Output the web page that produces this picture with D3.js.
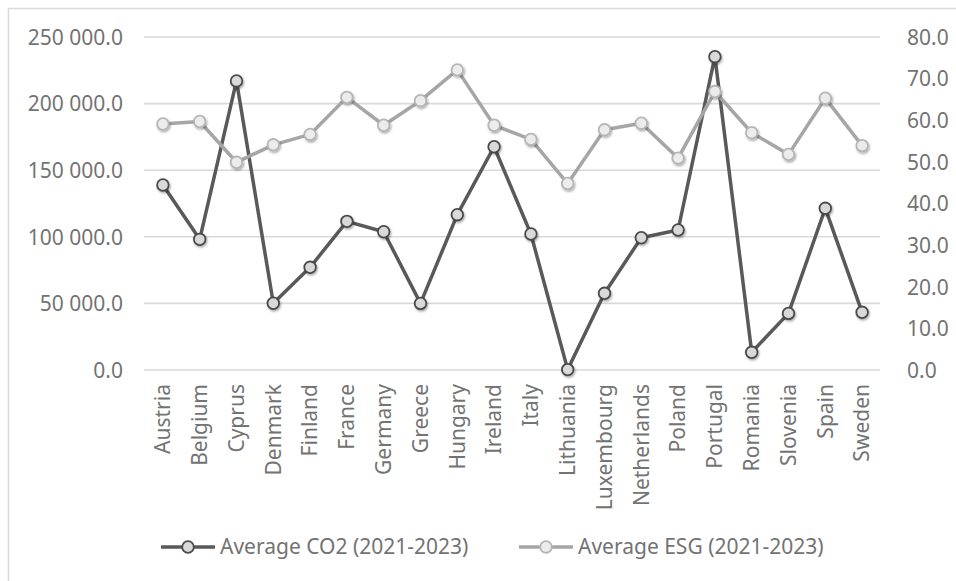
<!DOCTYPE html>
<html><head><meta charset="utf-8">
<script src="https://cdn.jsdelivr.net/npm/d3@7"></script>
<style>body{margin:0;background:#fff;} svg{display:block;}</style>
</head><body>
<script>
const countries = ["Austria","Belgium","Cyprus","Denmark","Finland","France","Germany","Greece","Hungary","Ireland","Italy","Lithuania","Luxembourg","Netherlands","Poland","Portugal","Romania","Slovenia","Spain","Sweden"];
const co2Values = [138900,98100,217000,50100,77100,111600,103800,50000,116600,167600,102100,300,57600,99300,105100,235200,13300,42500,121400,43300];
const esgValues = [59.1,59.7,49.9,54.1,56.6,65.5,58.8,64.7,72.1,58.8,55.4,44.8,57.7,59.3,50.9,66.9,57.0,51.8,65.3,53.9];
const leftTicks = [0,50000,100000,150000,200000,250000];
const rightTicks = [0,10,20,30,40,50,60,70,80];
const seriesNames = ["Average CO2 (2021-2023)","Average ESG (2021-2023)"];

const W=956,H=581;
const font = "'Noto Sans',sans-serif";
const textCol = "#737373";
const svg = d3.select("body").append("svg").attr("width",W).attr("height",H);

const defs = svg.append("defs");
const f = defs.append("filter").attr("id","sh").attr("x","-50%").attr("y","-50%").attr("width","200%").attr("height","200%");
f.append("feDropShadow").attr("dx",1).attr("dy",1.5).attr("stdDeviation",1.2).attr("flood-color","#000").attr("flood-opacity",0.35);

// outer border
svg.append("path").attr("d",`M8.5,${H+5} V8.5 H${W+5}`).attr("fill","none").attr("stroke","#d9d9d9").attr("stroke-width",1.5);

const x = d3.scaleBand().domain(countries).range([144.5,880.5]);
const yL = d3.scaleLinear().domain([0,250000]).range([370,37]);
const yR = d3.scaleLinear().domain([0,80]).range([370,37]);
const cx = d => x(d)+x.bandwidth()/2;

// gridlines
svg.append("g").selectAll("line").data(leftTicks).join("line")
  .attr("x1",144).attr("x2",880).attr("y1",d=>yL(d)).attr("y2",d=>yL(d))
  .attr("stroke","#d9d9d9").attr("stroke-width",1.6);

const fmtL = d => d3.format(",.1f")(d).replace(/,/g," ");
const gl = svg.append("g").attr("transform","translate(128,0)")
  .call(d3.axisLeft(yL).tickValues(leftTicks).tickFormat(fmtL).tickSize(0).tickPadding(5));
gl.select(".domain").remove();
gl.selectAll("text").attr("font-family",font).attr("font-size",21).attr("fill",textCol).attr("dy","0.35em");

const gr = svg.append("g").attr("transform","translate(907,0)")
  .call(d3.axisRight(yR).tickValues(rightTicks).tickFormat(d3.format(".1f")).tickSize(0).tickPadding(0));
gr.select(".domain").remove();
gr.selectAll("text").attr("font-family",font).attr("font-size",21).attr("fill",textCol).attr("dy","0.35em");

const gx = svg.append("g").attr("transform","translate(0,370)")
  .call(d3.axisBottom(x).tickSize(0).tickPadding(0));
gx.select(".domain").remove();
gx.selectAll("text").attr("font-family",font).attr("font-size",21).attr("fill",textCol)
  .attr("text-anchor","end").attr("transform","rotate(-90)").attr("x",-14).attr("y",0).attr("dy","0.35em");

function drawSeries(vals, y, lineCol, mStroke, mFill){
  const g = svg.append("g");
  g.append("path").datum(countries)
    .attr("d", d3.line().x(d=>cx(d)).y((d,i)=>y(vals[i])))
    .attr("fill","none").attr("stroke",lineCol).attr("stroke-width",3.5).attr("stroke-linejoin","round");
  g.selectAll("circle").data(countries).join("circle")
    .attr("cx",d=>cx(d)).attr("cy",(d,i)=>y(vals[i])).attr("r",5.8)
    .attr("fill",mFill).attr("stroke",mStroke).attr("stroke-width",1.8).attr("filter","url(#sh)");
}
drawSeries(co2Values, yL, "#595959", "#4a4a4a", "#d9d9d9");
drawSeries(esgValues, yR, "#a6a6a6", "#b5b5b5", "#ececec");

// legend
const leg = [{name:seriesNames[0],x:161,line:"#595959",st:"#4a4a4a",fill:"#d9d9d9"},
             {name:seriesNames[1],x:519,line:"#a6a6a6",st:"#b5b5b5",fill:"#ececec"}];
const lg = svg.append("g").selectAll("g").data(leg).join("g").attr("transform",d=>`translate(${d.x},547)`);
lg.append("line").attr("x1",0).attr("x2",54).attr("stroke",d=>d.line).attr("stroke-width",3.5);
lg.append("circle").attr("cx",27).attr("r",5.8).attr("fill",d=>d.fill).attr("stroke",d=>d.st).attr("stroke-width",1.8);
lg.append("text").attr("x",59).attr("dy","0.35em").text(d=>d.name)
  .attr("font-family",font).attr("font-size",21).attr("fill",textCol);
</script>
</body></html>
